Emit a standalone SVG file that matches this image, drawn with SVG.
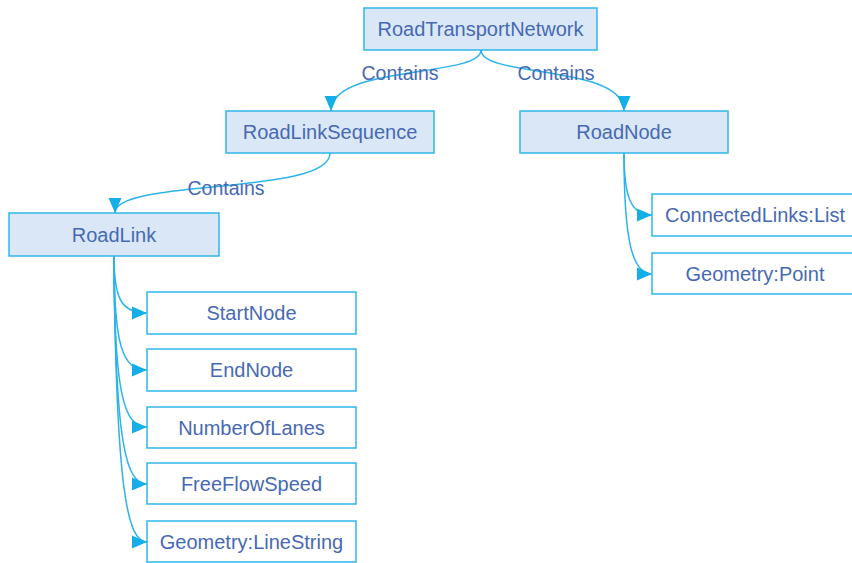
<svg xmlns="http://www.w3.org/2000/svg" width="852" height="563" viewBox="0 0 852 563">
<style>
.bg{fill:#ffffff}
.pri rect{fill:#dae7f6;stroke:#2fb6ea;stroke-width:1.5}
.sec rect{fill:#ffffff;stroke:#2fb6ea;stroke-width:1.5}
text{font-family:"Liberation Sans",Arial,sans-serif;font-size:20px;fill:#4769b4;text-anchor:middle}
.conn path{fill:none;stroke:#2cb4ea;stroke-width:1.5}
.conn text{font-size:19.5px}
</style>
<defs>
<marker id="arr" markerUnits="userSpaceOnUse" markerWidth="16" markerHeight="16" viewBox="0 0 16 16" refX="15" refY="8" orient="auto">
<path d="M0,1.5 L15,8 L0,14.5 Z" fill="#14aee8"/>
</marker>
</defs>
<rect class="bg" x="0" y="0" width="852" height="563"/>
<g class="conn">
<path d="M481,50 C481,78 331,64 331,111" marker-end="url(#arr)"/>
<path d="M481,50 C481,78 624,64 624,111" marker-end="url(#arr)"/>
<path d="M330,153 C330,196 115,178 115,213" marker-end="url(#arr)"/>
<path d="M114,256 C114,300 122,313 147,313" marker-end="url(#arr)"/>
<path d="M114,256 C114,345 122,370 147,370" marker-end="url(#arr)"/>
<path d="M114,256 C114,395 124,427 147,427" marker-end="url(#arr)"/>
<path d="M114,256 C115,445 126,484 147,484" marker-end="url(#arr)"/>
<path d="M114,256 C116,495 128,542 147,542" marker-end="url(#arr)"/>
<path d="M624,153 C624,195 630,215 652,215" marker-end="url(#arr)"/>
<path d="M624,153 C624,240 632,274 652,274" marker-end="url(#arr)"/>
<text x="400" y="80">Contains</text>
<text x="556" y="80">Contains</text>
<text x="226" y="195">Contains</text>
</g>
<g id="RoadTransportNetwork" class="pri"><rect x="364" y="8" width="233" height="42"/><text x="480.5" y="36">RoadTransportNetwork</text></g>
<g id="RoadLinkSequence" class="pri"><rect x="226" y="111" width="208" height="42"/><text x="330" y="139">RoadLinkSequence</text></g>
<g id="RoadNode" class="pri"><rect x="520" y="111" width="208" height="42"/><text x="624" y="139">RoadNode</text></g>
<g id="RoadLink" class="pri"><rect x="9" y="213" width="210" height="43"/><text x="114" y="241.5">RoadLink</text></g>
<g id="ConnectedLinks" class="sec"><rect x="652" y="194" width="210" height="42"/><text x="755" y="222">ConnectedLinks:List</text></g>
<g id="GeometryPoint" class="sec"><rect x="652" y="253" width="210" height="41"/><text x="755" y="280.5">Geometry:Point</text></g>
<g id="StartNode" class="sec"><rect x="147" y="292" width="209" height="42"/><text x="251.5" y="320">StartNode</text></g>
<g id="EndNode" class="sec"><rect x="147" y="349" width="209" height="42"/><text x="251.5" y="377">EndNode</text></g>
<g id="NumberOfLanes" class="sec"><rect x="147" y="407" width="209" height="41"/><text x="251.5" y="434.5">NumberOfLanes</text></g>
<g id="FreeFlowSpeed" class="sec"><rect x="147" y="463" width="209" height="41"/><text x="251.5" y="490.5">FreeFlowSpeed</text></g>
<g id="GeometryLineString" class="sec"><rect x="147" y="521" width="209" height="41"/><text x="251.5" y="548.5">Geometry:LineString</text></g>
</svg>
